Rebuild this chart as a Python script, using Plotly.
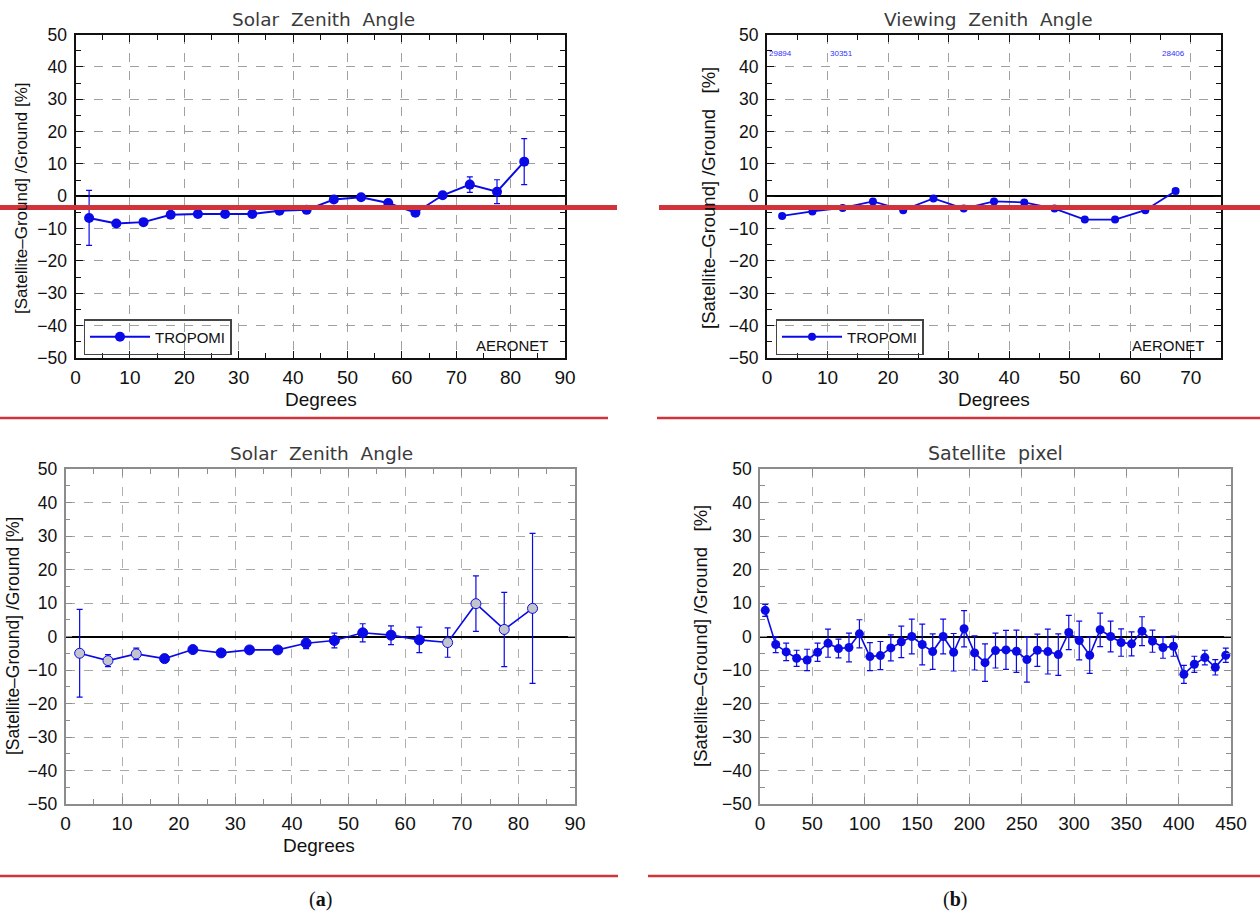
import plotly.graph_objects as go

# ---------------- data ----------------
# (a) top: Solar Zenith Angle (TROPOMI vs AERONET)
sza_x = [2.5, 7.5, 12.5, 17.5, 22.5, 27.5, 32.5, 37.5, 42.5, 47.5, 52.5, 57.5, 62.5, 67.5, 72.5, 77.5, 82.5]
sza_top_y = [-6.7, -8.4, -8.0, -5.7, -5.5, -5.5, -5.5, -4.5, -4.2, -1.0, -0.3, -2.1, -5.1, 0.3, 3.6, 1.4, 10.7]
sza_top_err = [8.5, 0.8, 0.8, 0.6, 0.6, 0.6, 0.6, 0.7, 0.7, 0.8, 0.8, 0.9, 0.9, 1.0, 2.4, 3.7, 7.1]

# (b) top: Viewing Zenith Angle
vza_x = [2.5, 7.5, 12.5, 17.5, 22.5, 27.5, 32.5, 37.5, 42.5, 47.5, 52.5, 57.5, 62.5, 67.5]
vza_y = [-6.1, -4.7, -3.6, -1.6, -4.3, -0.7, -3.8, -1.6, -1.9, -3.8, -7.2, -7.2, -4.3, 1.6]
vza_err = [0.5, 0.5, 0.5, 0.5, 0.5, 0.5, 0.5, 0.5, 0.5, 0.5, 0.5, 0.5, 0.5, 0.8]
vza_count_labels = ["29894", "30351", "28406"]
vza_count_x = [0, 10, 65]
vza_count_y = 44

# (a) bottom: Solar Zenith Angle
sza_bot_y = [-5.0, -7.2, -5.2, -6.6, -3.9, -4.9, -4.0, -4.0, -2.0, -1.2, 1.1, 0.4, -1.0, -1.8, 9.8, 2.1, 8.4]
sza_bot_err = [13.1, 1.8, 1.7, 0.8, 0.6, 0.6, 0.6, 0.8, 1.6, 2.2, 2.7, 2.8, 3.8, 4.4, 8.3, 11.1, 22.4]
sza_bot_lowcount = [1, 1, 1, 0, 0, 0, 0, 0, 0, 0, 0, 0, 0, 1, 1, 1, 1]

# (b) bottom: Satellite pixel
pix_x = [5, 15, 25, 35, 45, 55, 65, 75, 85, 95, 105, 115, 125, 135, 145, 155, 165, 175, 185, 195,
         205, 215, 225, 235, 245, 255, 265, 275, 285, 295, 305, 315, 325, 335, 345, 355, 365, 375,
         385, 395, 405, 415, 425, 435, 445]
pix_y = [7.8, -2.4, -4.6, -6.5, -7.0, -4.7, -2.0, -3.6, -3.3, 0.8, -6.0, -5.7, -3.4, -1.6, 0.0,
         -2.4, -4.5, 0.0, -4.7, 2.3, -4.9, -7.8, -4.2, -4.0, -4.4, -6.9, -4.1, -4.5, -5.4, 1.2,
         -1.2, -5.6, 2.0, 0.0, -1.8, -2.2, 1.6, -1.4, -3.3, -2.9, -11.3, -8.3, -6.3, -9.2, -5.6]
pix_err = [1.8, 2.4, 2.6, 2.4, 3.2, 2.7, 4.2, 2.8, 4.3, 4.2, 4.2, 4.2, 3.9, 4.7, 5.2, 6.1, 5.3,
           5.2, 5.6, 5.4, 5.1, 5.6, 5.2, 5.8, 6.3, 6.7, 4.8, 6.7, 6.2, 5.1, 5.8, 5.4, 5.0, 4.6,
           4.1, 3.6, 4.3, 3.3, 3.2, 3.0, 2.7, 2.4, 2.2, 2.3, 2.1]

y_ticks = [-50, -40, -30, -20, -10, 0, 10, 20, 30, 40, 50]

# ---------------- styling ----------------
W, H = 1260, 915
BLUE = "#0a0ae6"
RED = "#d0343a"
TICKFONT = "Liberation Sans, Arial, sans-serif"
TITLEFONT = "DejaVu Sans, sans-serif"


def px_x(p):
    return p / W


def px_y(p):
    return 1 - p / H


dom = {
    "tl": ([px_x(75.5), px_x(565)], [px_y(358), px_y(34.5)]),
    "tr": ([px_x(767), px_x(1221)], [px_y(358), px_y(34.5)]),
    "bl": ([px_x(65.5), px_x(575)], [px_y(804), px_y(469)]),
    "br": ([px_x(760), px_x(1231)], [px_y(804), px_y(469)]),
}


def xaxis(domain, anchor, rng, dtick, minor_dtick, top):
    axc = "#111111" if top else "#8c8c8c"
    d = dict(domain=domain, anchor=anchor, range=rng, dtick=dtick, tick0=0,
             ticks="inside", ticklen=7, tickwidth=1.3, tickcolor=axc,
             showline=True, linecolor=axc, linewidth=2 if top else 1.5, mirror="ticks",
             showgrid=True, gridcolor="#a0a0a0" if top else "#b0b0b0", griddash="dash", gridwidth=1,
             zeroline=False, automargin=False,
             tickfont=dict(family=TICKFONT, size=19, color="#111"),
             ticklabelstandoff=1)
    if minor_dtick:
        d["minor"] = dict(dtick=minor_dtick, ticks="inside", ticklen=5, tickcolor=axc, showgrid=False)
    return d


def yaxis(domain, anchor, top):
    axc = "#111111" if top else "#8c8c8c"
    return dict(domain=domain, anchor=anchor, range=[-50, 50], tickvals=y_ticks,
                ticks="inside", ticklen=7, tickwidth=1.3, tickcolor=axc,
                showline=True, linecolor=axc, linewidth=2 if top else 1.5, mirror="ticks",
                showgrid=True, gridcolor="#a0a0a0" if top else "#a8a8a8", griddash="dash", gridwidth=1.2,
                zeroline=True, zerolinecolor="#000", zerolinewidth=2 if top else 1.6,
                minor=dict(dtick=5, ticks="inside", ticklen=5, tickcolor=axc, showgrid=False),
                automargin=False,
                tickfont=dict(family=TICKFONT, size=17.5, color="#111"),
                ticklabelstandoff=3)


fig = go.Figure()

# top-left
fig.add_trace(go.Scatter(
    x=sza_x, y=sza_top_y, mode="lines+markers", name="TROPOMI",
    line=dict(color=BLUE, width=2), marker=dict(color=BLUE, size=10),
    error_y=dict(type="data", array=sza_top_err, color=BLUE, thickness=1.2, width=3),
    xaxis="x", yaxis="y", legend="legend", showlegend=True))

# top-right
fig.add_trace(go.Scatter(
    x=vza_x, y=vza_y, mode="lines+markers", name="TROPOMI",
    line=dict(color=BLUE, width=1.8), marker=dict(color=BLUE, size=8),
    error_y=dict(type="data", array=vza_err, color=BLUE, thickness=1.2, width=3),
    xaxis="x2", yaxis="y2", legend="legend2", showlegend=True))

# bottom-left
fill_cols = ["#c4c4cc" if f else BLUE for f in sza_bot_lowcount]
fig.add_trace(go.Scatter(
    x=sza_x, y=sza_bot_y, mode="lines+markers", name="TROPOMI",
    line=dict(color=BLUE, width=1.6),
    marker=dict(color=fill_cols, size=10, line=dict(color=BLUE, width=1)),
    error_y=dict(type="data", array=sza_bot_err, color=BLUE, thickness=1.2, width=3),
    xaxis="x3", yaxis="y3", showlegend=False))

# bottom-right
fig.add_trace(go.Scatter(
    x=pix_x, y=pix_y, mode="lines+markers", name="TROPOMI",
    line=dict(color=BLUE, width=1.6), marker=dict(color=BLUE, size=9),
    error_y=dict(type="data", array=pix_err, color=BLUE, thickness=1.2, width=3),
    xaxis="x4", yaxis="y4", showlegend=False))

annotations = []


def title(text, xc, yc, size=18.5):
    annotations.append(dict(text=text, x=px_x(xc), y=px_y(yc), xref="paper", yref="paper",
                            xanchor="center", yanchor="middle", showarrow=False,
                            font=dict(family=TITLEFONT, size=size, color="#3a3a3a")))


def ytitle(text, xc, yc, size):
    annotations.append(dict(text=text, x=px_x(xc), y=px_y(yc), xref="paper", yref="paper",
                            xanchor="center", yanchor="middle", showarrow=False, textangle=-90,
                            font=dict(family=TICKFONT, size=size, color="#111")))


def xtitle(text, xc, yc):
    annotations.append(dict(text=text, x=px_x(xc), y=px_y(yc), xref="paper", yref="paper",
                            xanchor="center", yanchor="middle", showarrow=False,
                            font=dict(family=TICKFONT, size=19, color="#111")))


title("Solar\u00a0 Zenith\u00a0 Angle", 324, 19)
title("Viewing\u00a0 Zenith\u00a0 Angle", 988, 19)
title("Solar\u00a0 Zenith\u00a0 Angle", 321, 453)
title("Satellite\u00a0 pixel", 995, 453, 19)

ytitle("[Satellite\u2013Ground] /Ground [%]", 22, 198, 17)
ytitle("[Satellite\u2013Ground] /Ground\u00a0\u00a0 [%]", 709, 198, 18.5)
ytitle("[Satellite\u2013Ground] /Ground [%]", 13, 636, 17.5)
ytitle("[Satellite\u2013Ground] /Ground\u00a0\u00a0 [%]", 700, 636, 18.5)

xtitle("Degrees", 321, 399)
xtitle("Degrees", 994, 399)
xtitle("Degrees", 319, 845)

for xr, yr, xd in [("x domain", "y domain", 0.971), ("x2 domain", "y2 domain", 0.969)]:
    annotations.append(dict(text="AERONET", x=xd, y=0.04, xref=xr, yref=yr,
                            xanchor="right", yanchor="middle", showarrow=False,
                            font=dict(family=TICKFONT, size=15, color="#111")))

for lab, cx in zip(vza_count_labels, vza_count_x):
    annotations.append(dict(text=lab, x=cx, y=vza_count_y, xref="x2", yref="y2",
                            xanchor="left", yanchor="middle", showarrow=False,
                            font=dict(family=TICKFONT, size=8, color="#3030ff")))

annotations.append(dict(text="(<b>a</b>)", x=px_x(320), y=px_y(899), xref="paper", yref="paper",
                        xanchor="center", yanchor="middle", showarrow=False,
                        font=dict(family="Liberation Serif, serif", size=20, color="#111")))
annotations.append(dict(text="(<b>b</b>)", x=px_x(955), y=px_y(899), xref="paper", yref="paper",
                        xanchor="center", yanchor="middle", showarrow=False,
                        font=dict(family="Liberation Serif, serif", size=20, color="#111")))

# red separator lines (figure decoration)
shapes = []


def hline(x0, x1, y, w):
    shapes.append(dict(type="line", xref="paper", yref="paper", x0=px_x(x0), x1=px_x(x1),
                       y0=px_y(y), y1=px_y(y), line=dict(color=RED, width=w), layer="above"))


hline(0, 617, 207.5, 5)
hline(659, 1260, 207.5, 5)
hline(0, 608, 418, 2.5)
hline(657, 1260, 418, 2.5)
hline(0, 618, 876, 2.5)
hline(648, 1260, 876, 2.5)

legend_common = dict(bgcolor="rgba(255,255,255,0)", bordercolor="#444", borderwidth=1.5,
                     font=dict(family=TICKFONT, size=15, color="#111"),
                     xanchor="left", yanchor="top", itemwidth=60, tracegroupgap=0,
                     xref="paper", yref="paper")

fig.update_layout(
    width=W, height=H, autosize=False,
    margin=dict(l=0, r=0, t=0, b=0, pad=0, autoexpand=False),
    paper_bgcolor="white", plot_bgcolor="white",
    xaxis=xaxis(dom["tl"][0], "y", [0, 90], 10, 5, True),
    yaxis=yaxis(dom["tl"][1], "x", True),
    xaxis2=xaxis(dom["tr"][0], "y2", [0, 75], 10, 5, True),
    yaxis2=yaxis(dom["tr"][1], "x2", True),
    xaxis3=xaxis(dom["bl"][0], "y3", [0, 90], 10, 5, False),
    yaxis3=yaxis(dom["bl"][1], "x3", False),
    xaxis4=xaxis(dom["br"][0], "y4", [0, 450], 50, None, False),
    yaxis4=yaxis(dom["br"][1], "x4", False),
    legend=dict(x=px_x(83.5), y=px_y(319), **legend_common),
    legend2=dict(x=px_x(775.5), y=px_y(319), **legend_common),
    annotations=annotations,
    shapes=shapes,
)

fig.write_html("out.html")
